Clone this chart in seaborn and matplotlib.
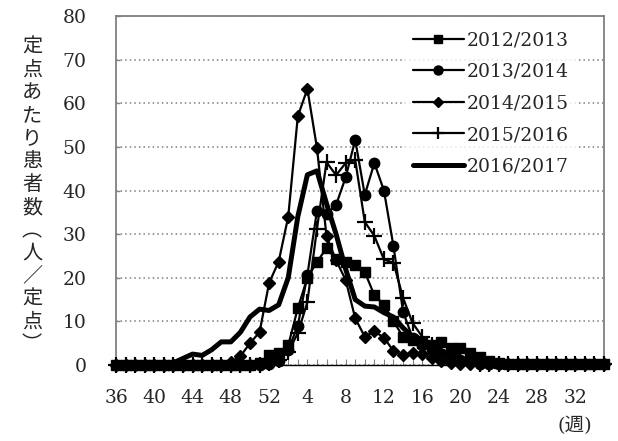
import matplotlib
matplotlib.use("Agg")
import matplotlib.pyplot as plt
from matplotlib.lines import Line2D
import seaborn as sns
import numpy as np
import pandas as pd

# ---- data ----
weeks = list(range(36, 53)) + list(range(1, 36))
tick_weeks = [36, 40, 44, 48, 52, 4, 8, 12, 16, 20, 24, 28, 32]
series_names = ["2012/2013", "2013/2014", "2014/2015", "2015/2016", "2016/2017"]

s2012 = [0.1] * 15 + [0.5, 2.3, 2.7, 4.5, 13, 20, 23.6, 26.8, 24.3, 23.6, 23, 21.3, 16, 13.8,
                      10, 6.5, 5.7, 5, 4.5, 5.2, 4, 3.8, 2.8, 1.8, 1, 0.5] + [0.2] * 11
s2013 = [0.1] * 16 + [0.3, 1, 3.5, 9, 20.6, 35.3, 34.5, 36.7, 43, 51.6, 39, 46.3, 40, 27.2,
                      12.2, 6.2, 4.5, 3.5, 2.5, 1.8, 1.2, 0.6] + [0.2] * 14
s2014 = [0.1] * 12 + [0.7, 2, 5, 7.5, 18.8, 23.7, 34, 57, 63.3, 49.8, 29.5, 24, 19.5, 10.7,
                      6.5, 7.7, 6.3, 3.2, 2.2, 2.8, 2.5, 1.5, 1, 0.5] + [0.2] * 16
s2015 = [0.1] * 16 + [0.5, 1.2, 3, 7.3, 14.4, 31.2, 46.5, 43.5, 46.3, 47, 32.8, 29.6, 24.2,
                      23.4, 15.4, 9.6, 6.5, 4.5, 3.2, 2.2, 1.5, 0.8] + [0.2] * 14
s2016 = [0.1] * 6 + [0.5, 1.5, 2.5, 2.2, 3.5, 5.3, 5.3, 7.5, 11, 12.8, 12.5, 13.8, 20, 34, 43.6,
                     44.5, 37, 30, 22, 15, 13.5, 13.3, 12, 11, 8.5, 6.5, 5.3, 4.3, 3.3, 2.3,
                     1.5, 0.9, 0.5] + [0.2] * 13
all_series = [s2012, s2013, s2014, s2015, s2016]

# ---- style ----
sns.set_style("white")
plt.rcParams["font.family"] = ["DejaVu Serif", "Noto Sans CJK JP"]

fig = plt.figure(figsize=(6.18, 4.41), dpi=100)
ax = fig.add_axes([116 / 618, 1 - 365 / 441, (604 - 116) / 618, (365 - 16) / 441])

idx = np.arange(len(weeks))
styles = [
    dict(marker="s", markersize=7, linewidth=1.6),
    dict(marker="o", markersize=7.5, linewidth=1.6),
    dict(marker="D", markersize=6, linewidth=1.6),
    dict(marker="+", markersize=11, markeredgewidth=1.6, linewidth=1.6),
    dict(marker=None, linewidth=3.6),
]

for name, vals, st in zip(series_names, all_series, styles):
    df = pd.DataFrame({"idx": idx, "val": vals})
    kw = dict(st)
    kw.setdefault("markeredgewidth", 1.0)
    sns.lineplot(data=df, x="idx", y="val", ax=ax, color="black",
                 markeredgecolor="black", markerfacecolor="black",
                 linestyle="-", clip_on=False, zorder=3, **kw)

ax.set_xlim(0, len(weeks) - 1)
ax.set_ylim(0, 80)
ax.set_yticks(range(0, 81, 10))
ax.set_xticks(idx)
ax.set_xticklabels([str(w) if (i % 4 == 0) else "" for i, w in enumerate(weeks)])
ax.set_xlabel("")
ax.set_ylabel("")

ax.yaxis.grid(True, color="#808080", linestyle=(0, (1, 2)), linewidth=1.1)
ax.xaxis.grid(False)
for sp in ["left", "top", "right"]:
    ax.spines[sp].set_color("#808080")
    ax.spines[sp].set_linewidth(1.3)
ax.spines["bottom"].set_color("black")
ax.spines["bottom"].set_linewidth(1.0)

ax.tick_params(axis="x", direction="in", length=4, width=0.8, color="#808080",
               labelsize=13.5, pad=17, bottom=True)
ax.tick_params(axis="y", direction="in", length=3, width=1, color="#808080",
               labelsize=13.5, pad=21, left=True)

# legend
handles = []
for st in styles:
    kw = dict(st)
    kw.setdefault("markeredgewidth", 1.0)
    handles.append(Line2D([], [], color="black", markeredgecolor="black",
                          markerfacecolor="black", **kw))
handles[0].set_markersize(6)
handles[1].set_markersize(6.5)
handles[2].set_markersize(5.5)
handles[3].set_markersize(9)
leg = ax.legend(handles, series_names, loc="upper left",
                bbox_to_anchor=(405 / 618, 1 - 24 / 441), bbox_transform=fig.transFigure,
                fontsize=13.5, frameon=True, borderaxespad=0, borderpad=0.4,
                handlelength=2.75, handletextpad=0.15, labelspacing=0.72)
leg.get_frame().set_facecolor("white")
leg.get_frame().set_linewidth(0)
leg.set_zorder(5)

# vertical y label
ylabel_chars = "定点あたり患者数︵人／定点︶"
fig.text(32 / 618, 1 - 196 / 441, "\n".join(ylabel_chars), ha="center", va="center",
         fontsize=14.5, linespacing=1.12, family=["Noto Sans CJK JP", "DejaVu Sans"])

fig.text(575 / 618, 1 - 426 / 441, "(週)", ha="center", va="center", fontsize=14,
         family=["DejaVu Serif", "Noto Sans CJK JP"])

fig.savefig("out.png", dpi=100)
